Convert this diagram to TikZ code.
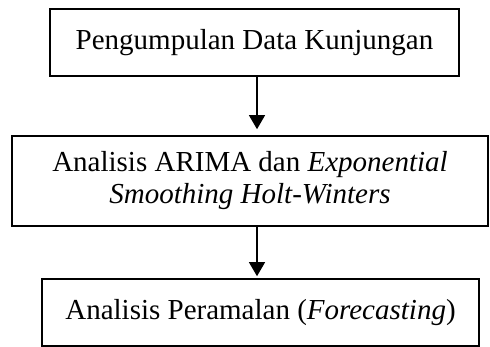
\documentclass[tikz,border=0pt]{standalone}
\usepackage{fontspec}
\setmainfont{Liberation Serif}
\usepackage{tikz}
\usetikzlibrary{arrows.meta}
\usetikzlibrary{positioning}
\tikzset{>=latex}
\tikzstyle{stage} = [draw, line width=1.6pt, inner sep=0, align=center, font=\fontsize{29}{32}\selectfont]
\tikzstyle{flow} = [-{Triangle[length=14pt,width=16pt]}, line width=1.2pt]

\begin{document}
\begin{tikzpicture}[x=1pt, y=-1pt]
\useasboundingbox (0,0) rectangle (490,347);
\node [stage, minimum width=409pt, minimum height=67pt] (kumpul) at (254.5, 42.5) {Pengumpulan Data Kunjungan};
\node [stage, minimum width=476pt, minimum height=90pt] (analisis) at (250, 181) {Analisis ARIMA dan \textit{Exponential}\\ \textit{Smoothing Holt-Winters}};
\node [stage, minimum width=437pt, minimum height=67pt] (ramal) at (260.5, 312.5) {Analisis Peramalan (\textit{Forecasting})};
\coordinate (axis) at (257, 0);
\draw [flow] (kumpul.south -| axis) to ([yshift=6pt]analisis.north -| axis);
\draw [flow] (analisis.south -| axis) to ([yshift=2pt]ramal.north -| axis);
\end{tikzpicture}
\end{document}
